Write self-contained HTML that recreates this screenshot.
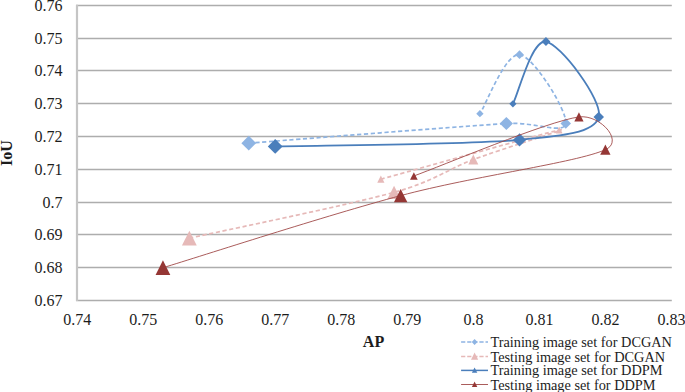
<!DOCTYPE html>
<html><head><meta charset="utf-8"><title>chart</title>
<style>
html,body{margin:0;padding:0;background:#fff;}
body{width:685px;height:392px;overflow:hidden;position:relative;font-family:"Liberation Serif",serif;color:#000;}
svg{position:absolute;left:0;top:0;}
text{font-family:"Liberation Serif",serif;fill:#1c1c1c;}
</style></head><body>
<svg width="685" height="392" viewBox="0 0 685 392">
<rect width="685" height="392" fill="#fff"/>
<line x1="76.00" y1="300.50" x2="671.80" y2="300.50" stroke="#adadad" stroke-width="1.36"/>
<line x1="76.00" y1="267.50" x2="671.80" y2="267.50" stroke="#adadad" stroke-width="1.36"/>
<line x1="76.00" y1="234.50" x2="671.80" y2="234.50" stroke="#adadad" stroke-width="1.36"/>
<line x1="76.00" y1="202.50" x2="671.80" y2="202.50" stroke="#adadad" stroke-width="1.36"/>
<line x1="76.00" y1="169.50" x2="671.80" y2="169.50" stroke="#adadad" stroke-width="1.36"/>
<line x1="76.00" y1="136.50" x2="671.80" y2="136.50" stroke="#adadad" stroke-width="1.36"/>
<line x1="76.00" y1="103.50" x2="671.80" y2="103.50" stroke="#adadad" stroke-width="1.36"/>
<line x1="76.00" y1="70.50" x2="671.80" y2="70.50" stroke="#adadad" stroke-width="1.36"/>
<line x1="76.00" y1="38.50" x2="671.80" y2="38.50" stroke="#adadad" stroke-width="1.36"/>
<line x1="76.00" y1="5.50" x2="671.80" y2="5.50" stroke="#adadad" stroke-width="1.36"/>
<line x1="77" y1="4.8" x2="77" y2="300.9" stroke="#c5c5c5" stroke-width="2.2"/>
<text x="62.5" y="305.80" font-size="16" text-anchor="end">0.67</text>
<text x="62.5" y="272.80" font-size="16" text-anchor="end">0.68</text>
<text x="62.5" y="239.80" font-size="16" text-anchor="end">0.69</text>
<text x="62.5" y="207.80" font-size="16" text-anchor="end">0.7</text>
<text x="62.5" y="174.80" font-size="16" text-anchor="end">0.71</text>
<text x="62.5" y="141.80" font-size="16" text-anchor="end">0.72</text>
<text x="62.5" y="108.80" font-size="16" text-anchor="end">0.73</text>
<text x="62.5" y="75.80" font-size="16" text-anchor="end">0.74</text>
<text x="62.5" y="43.80" font-size="16" text-anchor="end">0.75</text>
<text x="62.5" y="10.80" font-size="16" text-anchor="end">0.76</text>
<text x="77.20" y="324.6" font-size="16" text-anchor="middle">0.74</text>
<text x="143.23" y="324.6" font-size="16" text-anchor="middle">0.75</text>
<text x="209.27" y="324.6" font-size="16" text-anchor="middle">0.76</text>
<text x="275.30" y="324.6" font-size="16" text-anchor="middle">0.77</text>
<text x="341.33" y="324.6" font-size="16" text-anchor="middle">0.78</text>
<text x="407.37" y="324.6" font-size="16" text-anchor="middle">0.79</text>
<text x="473.40" y="324.6" font-size="16" text-anchor="middle">0.8</text>
<text x="539.43" y="324.6" font-size="16" text-anchor="middle">0.81</text>
<text x="605.47" y="324.6" font-size="16" text-anchor="middle">0.82</text>
<text x="671.50" y="324.6" font-size="16" text-anchor="middle">0.83</text>
<text x="373.5" y="346.8" font-size="16" font-weight="bold" text-anchor="middle">AP</text>
<text transform="translate(11.8,153.2) rotate(-90)" font-size="16" font-weight="bold" text-anchor="middle">IoU</text>
<path d="M248.79,143.17 C291.71,139.89 453.49,126.78 506.32,123.50 C535.97,121.66 563.55,134.97 565.75,123.50 C567.95,112.03 533.83,56.31 519.52,54.67 C505.22,53.03 486.51,103.83 479.90,113.67" fill="none" stroke="#8EB4E3" stroke-width="1.7" stroke-dasharray="4.2,2.6" stroke-linejoin="round"/>
<path d="M248.79,135.77 L256.19,143.17 L248.79,150.57 L241.39,143.17 Z" fill="#8EB4E3"/>
<path d="M506.32,116.90 L512.92,123.50 L506.32,130.10 L499.72,123.50 Z" fill="#8EB4E3"/>
<path d="M565.75,118.25 L571.00,123.50 L565.75,128.75 L560.50,123.50 Z" fill="#8EB4E3"/>
<path d="M519.52,50.22 L523.97,54.67 L519.52,59.12 L515.07,54.67 Z" fill="#8EB4E3"/>
<path d="M479.90,110.02 L483.55,113.67 L479.90,117.32 L476.25,113.67 Z" fill="#8EB4E3"/>
<path d="M189.36,238.22 C223.47,230.57 346.74,205.44 394.06,192.33 C435.38,180.89 445.79,169.94 473.30,159.56 C500.81,149.18 574.55,126.78 559.14,130.06 C543.74,133.33 410.57,171.03 380.85,179.22" fill="none" stroke="#E6B9B8" stroke-width="1.7" stroke-dasharray="4.2,2.6" stroke-linejoin="round"/>
<path d="M189.36,230.82 L196.76,245.62 L181.96,245.62 Z" fill="#E6B9B8"/>
<path d="M394.06,185.73 L400.66,198.93 L387.46,198.93 Z" fill="#E6B9B8"/>
<path d="M473.30,154.56 L478.30,164.56 L468.30,164.56 Z" fill="#E6B9B8"/>
<path d="M559.14,126.56 L562.64,133.56 L555.64,133.56 Z" fill="#E6B9B8"/>
<path d="M380.85,175.62 L384.45,182.82 L377.25,182.82 Z" fill="#E6B9B8"/>
<path d="M275.20,146.44 C315.92,145.35 465.60,144.81 519.52,139.89 C560.60,136.14 594.36,133.33 598.76,116.94 C603.17,100.56 560.24,43.74 545.94,41.56 C531.63,39.37 518.42,93.45 512.92,103.83" fill="none" stroke="#4A7EBB" stroke-width="1.8" stroke-linejoin="round"/>
<path d="M275.20,139.04 L282.60,146.44 L275.20,153.84 L267.80,146.44 Z" fill="#4A7EBB"/>
<path d="M519.52,133.29 L526.12,139.89 L519.52,146.49 L512.92,139.89 Z" fill="#4A7EBB"/>
<path d="M598.76,111.69 L604.01,116.94 L598.76,122.19 L593.51,116.94 Z" fill="#4A7EBB"/>
<path d="M545.94,37.11 L550.39,41.56 L545.94,46.01 L541.49,41.56 Z" fill="#4A7EBB"/>
<path d="M512.92,100.18 L516.57,103.83 L512.92,107.48 L509.27,103.83 Z" fill="#4A7EBB"/>
<path d="M162.94,267.72 C202.56,255.70 326.93,215.28 400.66,195.61 C474.40,175.94 575.65,162.83 605.37,149.72 C624.62,141.23 599.81,114.09 578.95,116.94 C547.04,121.31 441.38,166.11 413.87,175.94" fill="none" stroke="#a04a48" stroke-width="0.9" stroke-linejoin="round"/>
<path d="M162.94,260.32 L170.34,275.12 L155.54,275.12 Z" fill="#953735"/>
<path d="M400.66,188.91 L407.36,202.31 L393.96,202.31 Z" fill="#953735"/>
<path d="M605.37,144.57 L610.52,154.87 L600.22,154.87 Z" fill="#953735"/>
<path d="M578.95,112.29 L583.60,121.59 L574.30,121.59 Z" fill="#953735"/>
<path d="M413.87,172.14 L417.67,179.74 L410.07,179.74 Z" fill="#953735"/>
<line x1="461.1" y1="342.0" x2="488.0" y2="342.0" stroke="#8EB4E3" stroke-width="1.6" stroke-dasharray="4.2,1.9"/>
<path d="M474.60,339.10 L477.50,342.00 L474.60,344.90 L471.70,342.00 Z" fill="#8EB4E3"/>
<text x="490.4" y="347.00" font-size="14.32">Training image set for DCGAN</text>
<line x1="461.1" y1="356.5" x2="488.0" y2="356.5" stroke="#E6B9B8" stroke-width="1.6" stroke-dasharray="4.2,1.9"/>
<path d="M474.60,352.60 L478.20,359.80 L471.00,359.80 Z" fill="#E6B9B8"/>
<text x="490.4" y="361.50" font-size="14.32">Testing image set for DCGAN</text>
<line x1="461.1" y1="370.4" x2="488.0" y2="370.4" stroke="#4A7EBB" stroke-width="1.5"/>
<path d="M474.60,367.40 L477.30,372.80 L471.90,372.80 Z" fill="#4A7EBB"/>
<text x="490.4" y="375.40" font-size="14.32">Training image set for DDPM</text>
<line x1="461.1" y1="384.5" x2="488.0" y2="384.5" stroke="#a04a48" stroke-width="0.9"/>
<path d="M474.60,381.50 L477.30,386.90 L471.90,386.90 Z" fill="#953735"/>
<text x="490.4" y="389.50" font-size="14.32">Testing image set for DDPM</text>
</svg></body></html>
